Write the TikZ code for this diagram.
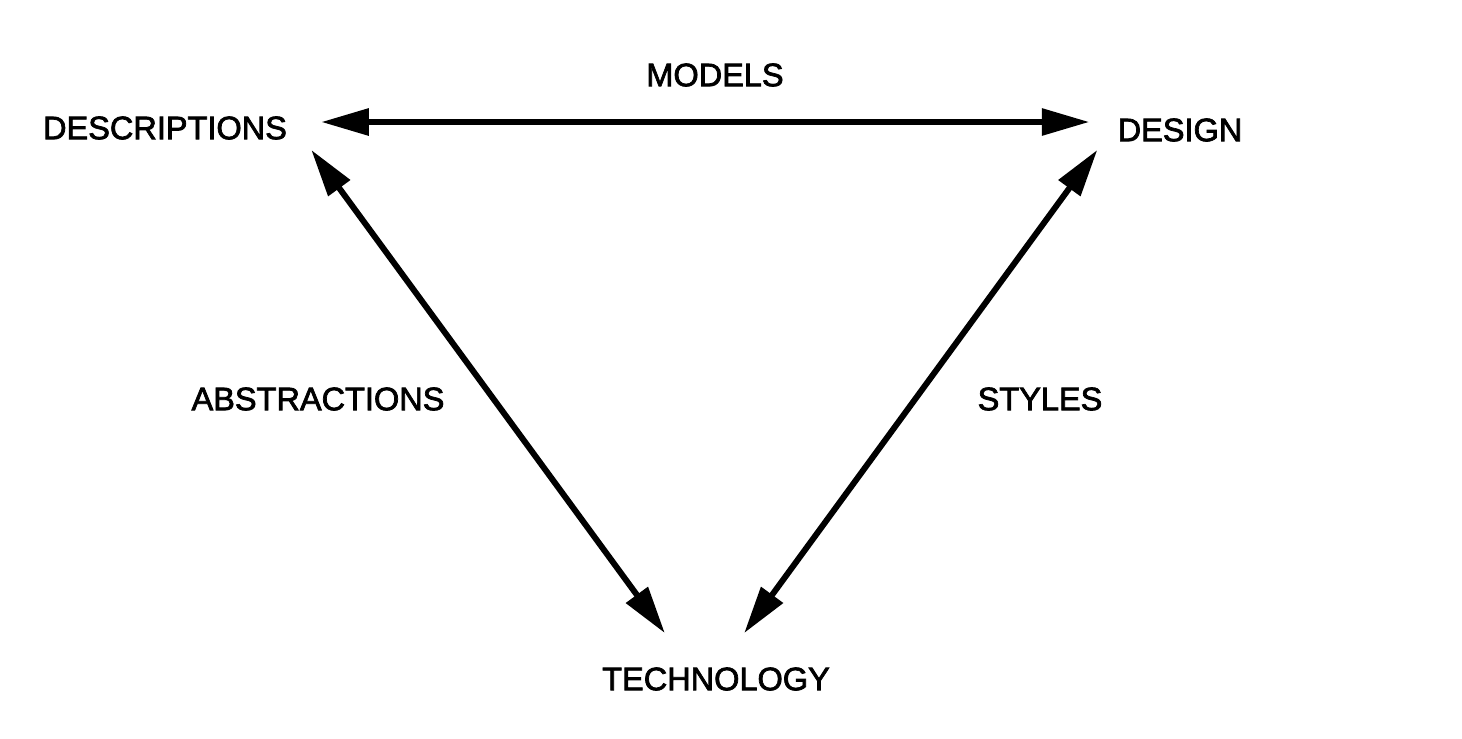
\documentclass[tikz,border=0pt]{standalone}
\usepackage{fontspec}
\setmainfont[FakeBold=2.2]{Liberation Sans}
\usepackage{tikz}
\usetikzlibrary{arrows.meta}

\tikzset{word/.style={font=\fontsize{18.5}{22}\selectfont, inner sep=0pt},
  link/.style={{Triangle[length=0.95cm,width=0.52cm]}-{Triangle[length=0.95cm,width=0.52cm]}, line width=3.4pt}}

\begin{document}
\begin{tikzpicture}[x=0.02cm,y=-0.02cm]
\useasboundingbox (0,0) rectangle (1462,738);

\node [word] (desc) at (165,128) {DESCRIPTIONS}; \node [word] (design) at (1180,130) {DESIGN};
\node [word] (tech) at (716,679) {TECHNOLOGY};

\node [word] (models) at (715,75) {MODELS};
\node [word] (abstr) at (318,399) {ABSTRACTIONS}; \node [word] (styles) at (1040,399) {STYLES};

\draw [link] ([shift={(34,-6)}]desc.east) -- ([shift={(-28,-8)}]design.west);
\draw [link] ([shift={(24,10)}]desc.south east) -- ([shift={(63,-34)}]tech.north west);
\draw [link] ([shift={(-20,8)}]design.south west) -- ([shift={(-86,-34)}]tech.north east);

\end{tikzpicture}
\end{document}
